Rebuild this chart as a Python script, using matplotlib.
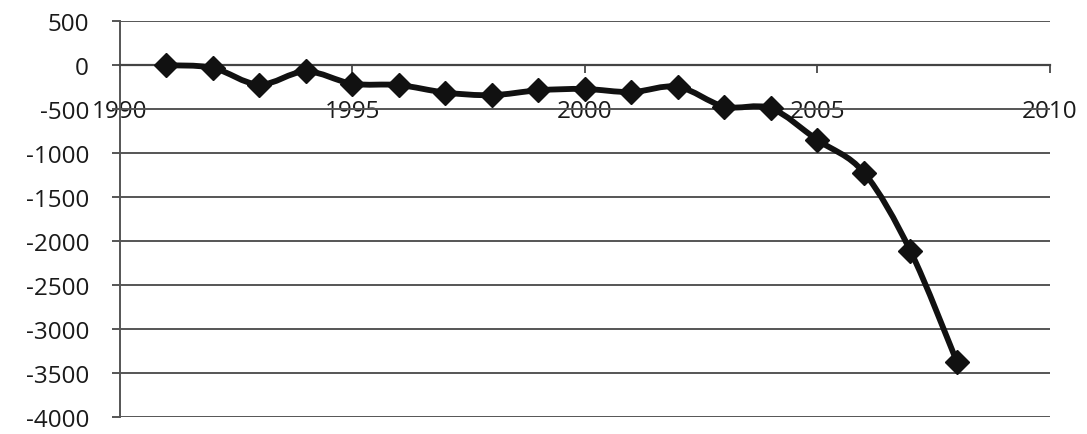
import numpy as np
import matplotlib.pyplot as plt
from matplotlib.path import Path
from matplotlib.patches import PathPatch

plt.rcParams['font.family'] = ['Open Sans', 'DejaVu Sans']
plt.rcParams['axes.unicode_minus'] = False

# yearly values
years = [1991, 1992, 1993, 1994, 1995, 1996, 1997, 1998, 1999,
         2000, 2001, 2002, 2003, 2004, 2005, 2006, 2007, 2008]
values = [0, -30, -220, -70, -210, -225, -310, -340, -285,
          -270, -305, -245, -470, -490, -850, -1220, -2110, -3370]

x_ticks = [1990, 1995, 2000, 2005, 2010]
y_ticks = [500, 0, -500, -1000, -1500, -2000, -2500, -3000, -3500, -4000]


def smooth_path(xs, ys, tension=1 / 6):
    # cubic bezier through every point, excel style "smoothed line"
    xs = np.asarray(xs, float)
    ys = np.asarray(ys, float)
    pts = np.column_stack([xs, ys])
    verts = [pts[0]]
    codes = [Path.MOVETO]
    n = len(pts)
    for i in range(n - 1):
        p0 = pts[i - 1] if i > 0 else pts[i]
        p1 = pts[i]
        p2 = pts[i + 1]
        p3 = pts[i + 2] if i + 2 < n else pts[i + 1]
        c1 = p1 + (p2 - p0) * tension
        c2 = p2 - (p3 - p1) * tension
        verts += [c1, c2, p2]
        codes += [Path.CURVE4] * 3
    return Path(verts, codes)


fig = plt.figure(figsize=(10.87, 4.35), dpi=100)
ax = fig.add_axes([0.110, 0.038, 0.856, 0.911])

ax.set_xlim(1990, 2010)
ax.set_ylim(-4000, 500)
ax.set_yticks(y_ticks)
ax.set_xticks(x_ticks)
ax.yaxis.grid(True, color='#555555', linewidth=1.4)
ax.set_axisbelow(True)

# x axis crosses at zero
for s in ['top', 'right']:
    ax.spines[s].set_visible(False)
ax.spines['bottom'].set_position(('data', 0))
ax.spines['bottom'].set_color('#444444')
ax.spines['bottom'].set_linewidth(1.6)
ax.spines['left'].set_color('#555555')
ax.spines['left'].set_linewidth(1.4)

ax.tick_params(axis='y', length=6, width=1.4, color='#555555', pad=16,
               labelsize=17.5, labelcolor='#1a1a1a')
ax.tick_params(axis='x', direction='out', length=6, width=1.4, color='#555555',
               pad=18, labelsize=17.5, labelcolor='#1a1a1a')

ax.add_patch(PathPatch(smooth_path(years, values), facecolor='none',
                       edgecolor='#111111', linewidth=4.2, zorder=3,
                       capstyle='round', joinstyle='round'))
ax.plot(years, values, linestyle='none', marker='D', markersize=12,
        color='#111111', zorder=4)

fig.savefig('out.png', dpi=100, facecolor='white')
